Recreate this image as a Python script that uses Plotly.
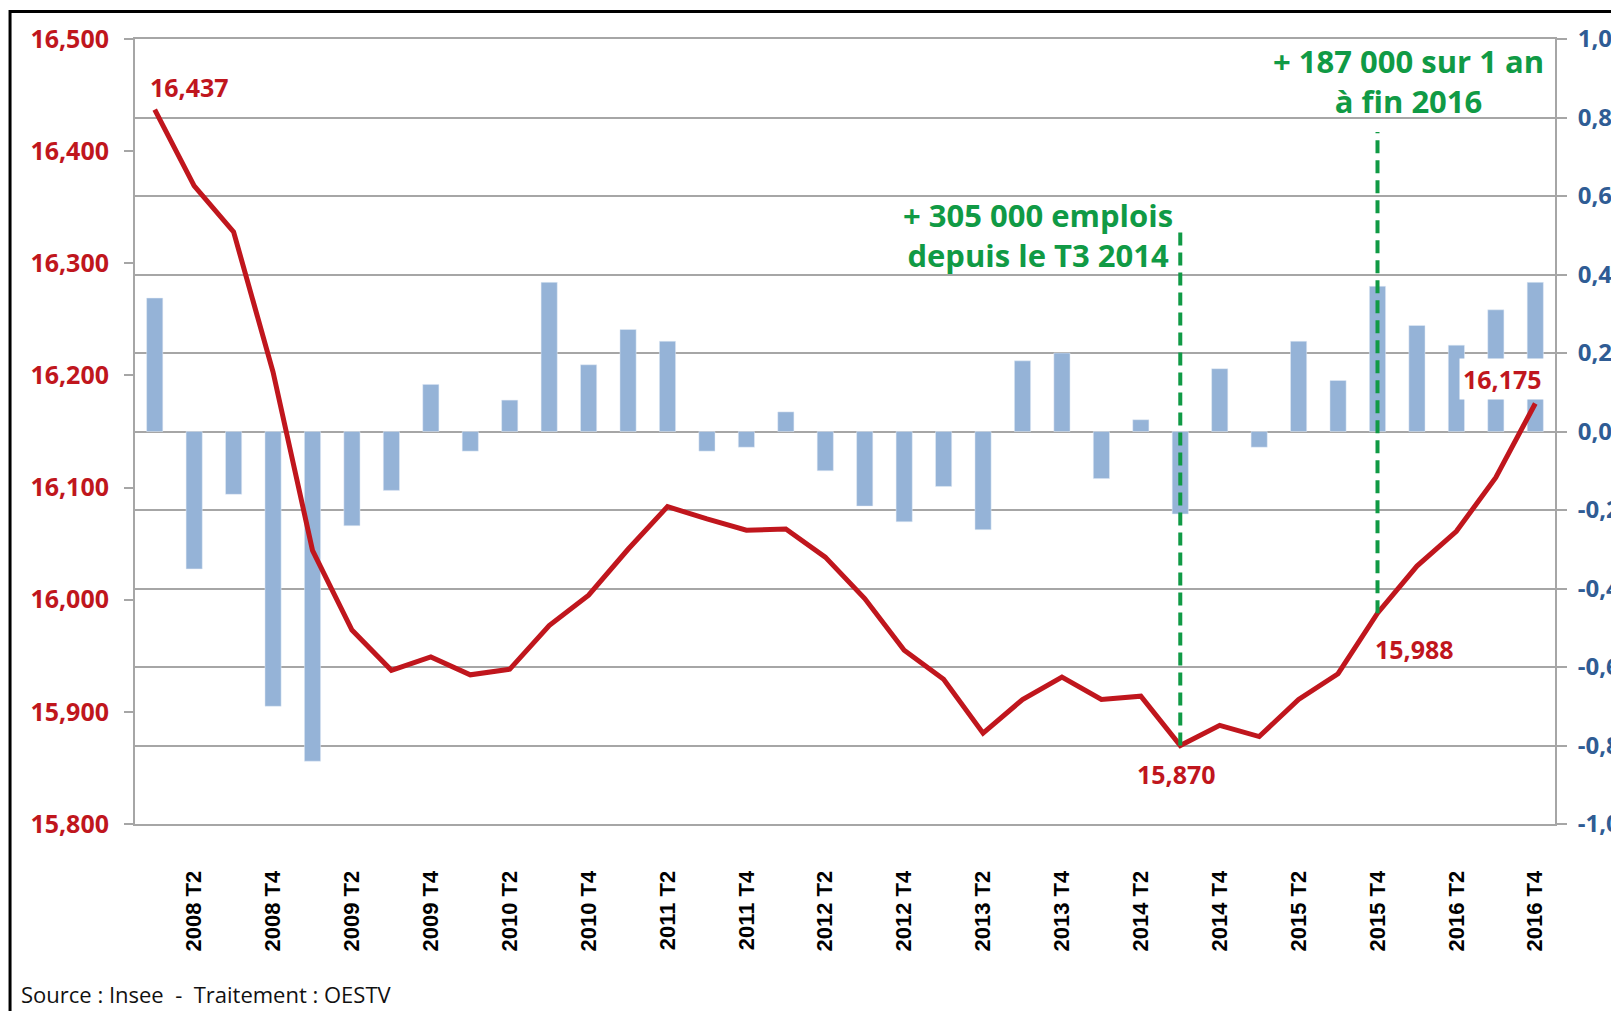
import plotly.graph_objects as go

# ---------------- data ----------------
quarters = [
    "2008 T1", "2008 T2", "2008 T3", "2008 T4",
    "2009 T1", "2009 T2", "2009 T3", "2009 T4",
    "2010 T1", "2010 T2", "2010 T3", "2010 T4",
    "2011 T1", "2011 T2", "2011 T3", "2011 T4",
    "2012 T1", "2012 T2", "2012 T3", "2012 T4",
    "2013 T1", "2013 T2", "2013 T3", "2013 T4",
    "2014 T1", "2014 T2", "2014 T3", "2014 T4",
    "2015 T1", "2015 T2", "2015 T3", "2015 T4",
    "2016 T1", "2016 T2", "2016 T3", "2016 T4",
]

# quarterly change (%), right axis
variation = [
    0.34, -0.35, -0.16, -0.70,
    -0.84, -0.24, -0.15, 0.12,
    -0.05, 0.08, 0.38, 0.17,
    0.26, 0.23, -0.05, -0.04,
    0.05, -0.10, -0.19, -0.23,
    -0.14, -0.25, 0.18, 0.20,
    -0.12, 0.03, -0.21, 0.16,
    -0.04, 0.23, 0.13, 0.37,
    0.27, 0.22, 0.31, 0.38,
]

# employment level (millions), left axis
emploi = [
    16.437, 16.369, 16.328, 16.203,
    16.044, 15.973, 15.937, 15.949,
    15.933, 15.938, 15.977, 16.004,
    16.045, 16.083, 16.072, 16.062,
    16.063, 16.038, 16.001, 15.955,
    15.929, 15.881, 15.911, 15.931,
    15.911, 15.914, 15.870, 15.888,
    15.878, 15.911, 15.934, 15.988,
    16.030, 16.061, 16.109, 16.175,
]

x_tickvals = quarters[1::2]
x_ticktext = x_tickvals

left_tickvals = [15.8, 15.9, 16.0, 16.1, 16.2, 16.3, 16.4, 16.5]
left_ticktext = ["15,800", "15,900", "16,000", "16,100", "16,200", "16,300", "16,400", "16,500"]

right_tickvals = [-1.0, -0.8, -0.6, -0.4, -0.2, 0.0, 0.2, 0.4, 0.6, 0.8, 1.0]
right_ticktext = ["-1,0", "-0,8", "-0,6", "-0,4", "-0,2", "0,0", "0,2", "0,4", "0,6", "0,8", "1,0"]

labelled_points = ["2008 T1", "2014 T3", "2015 T4", "2016 T4"]

note_1 = "+ 305 000 emplois<br>depuis le T3 2014"
note_2 = "+ 187 000 sur 1 an<br>à fin 2016"
source_text = "Source : Insee  -  Traitement : OESTV"

# ---------------- styles ----------------
RED = "#C0161D"
BLUE_BAR = "#95B3D7"
BLUE_TXT = "#2F5C94"
GREEN = "#109A45"
GRID = "#A6A6A6"
FONT = "Open Sans"

fig = go.Figure()
fig.add_bar(x=quarters, y=variation, marker_color=BLUE_BAR, yaxis="y",
            showlegend=False)
fig.add_scatter(x=quarters, y=emploi, mode="lines", yaxis="y2",
                line=dict(color=RED, width=5), showlegend=False)


def fmt(v):
    return f"{v:.3f}".replace(".", ",")


idx = {q: i for i, q in enumerate(quarters)}
label_style = {
    "2008 T1": dict(xanchor="left", yanchor="bottom", xshift=-7, yshift=4),
    "2014 T3": dict(xanchor="center", yanchor="top", xshift=-4, yshift=-9),
    "2015 T4": dict(xanchor="left", yanchor="top", xshift=-5, yshift=-17),
    "2016 T4": dict(xanchor="right", yanchor="bottom", xshift=11, yshift=3,
                    bgcolor="white", borderpad=3),
}
annotations = []
for q in labelled_points:
    v = emploi[idx[q]]
    annotations.append(dict(
        x=q, y=v, xref="x", yref="y2", text=fmt(v), showarrow=False,
        font=dict(family=FONT, size=25, color=RED, weight="bold"),
        **label_style[q]))

annotations.append(dict(
    x=0.636, y=0.75, xref="paper", yref="paper", text=note_1, showarrow=False,
    align="center", xanchor="center", yanchor="middle",
    font=dict(family=FONT, size=31, color=GREEN, weight="bold")))
annotations.append(dict(
    x=0.897, y=0.947, xref="paper", yref="paper", text=note_2, showarrow=False,
    align="center", xanchor="center", yanchor="middle",
    font=dict(family=FONT, size=31, color=GREEN, weight="bold")))
annotations.append(dict(
    x=-0.0817, y=-0.2165, xref="paper", yref="paper", text=source_text,
    showarrow=False, xanchor="left", yanchor="middle",
    font=dict(family=FONT, size=22, color="#111111")))

shapes = [
    # dashed markers from the data points upward
    dict(type="line", xref="x", yref="y2", x0="2014 T3", x1="2014 T3",
         y0=emploi[idx["2014 T3"]], y1=16.328,
         line=dict(color=GREEN, width=4, dash="13px,7px")),
    dict(type="line", xref="x", yref="y2", x0="2015 T4", x1="2015 T4",
         y0=emploi[idx["2015 T4"]], y1=16.417,
         line=dict(color=GREEN, width=4, dash="13px,7px")),
    # outer frame (left and top edges visible)
    dict(type="rect", xref="paper", yref="paper", x0=-0.088, x1=1.3,
         y0=-0.6, y1=1.035, line=dict(color="black", width=3),
         layer="below"),
]

fig.update_layout(
    width=1611, height=1003,
    margin=dict(l=127, r=64, t=31, b=187, autoexpand=False),
    paper_bgcolor="white", plot_bgcolor="white",
    bargap=0.59,
    font=dict(family=FONT),
    xaxis=dict(
        type="category", categoryorder="array", categoryarray=quarters,
        tickmode="array", tickvals=x_tickvals, ticktext=x_ticktext,
        tickangle=-90, ticks="", ticklabelstandoff=36, automargin=False,
        tickfont=dict(family="Liberation Sans", size=22, color="black",
                      weight="bold"),
        showline=True, mirror=True, linecolor=GRID, linewidth=2,
        showgrid=False, range=[-0.5, 35.5],
    ),
    yaxis=dict(
        side="right", range=[-1, 1], automargin=False,
        tickmode="array", tickvals=right_tickvals, ticktext=right_ticktext,
        tickfont=dict(family=FONT, size=24, color=BLUE_TXT, weight="bold"),
        ticks="outside", ticklen=10, tickcolor=GRID, tickwidth=2,
        ticklabelstandoff=6,
        showgrid=True, gridcolor=GRID, gridwidth=2,
        zeroline=True, zerolinecolor=GRID, zerolinewidth=2,
        showline=True, linecolor=GRID, linewidth=2,
    ),
    yaxis2=dict(
        side="left", overlaying="y", range=[15.8, 16.5], automargin=False,
        tickmode="array", tickvals=left_tickvals, ticktext=left_ticktext,
        tickfont=dict(family=FONT, size=25, color=RED, weight="bold"),
        ticks="outside", ticklen=9, tickcolor=GRID, tickwidth=2,
        ticklabelstandoff=10,
        showgrid=False, zeroline=False,
        showline=True, linecolor=GRID, linewidth=2,
    ),
    annotations=annotations,
    shapes=shapes,
)

fig.write_html("out.html")
